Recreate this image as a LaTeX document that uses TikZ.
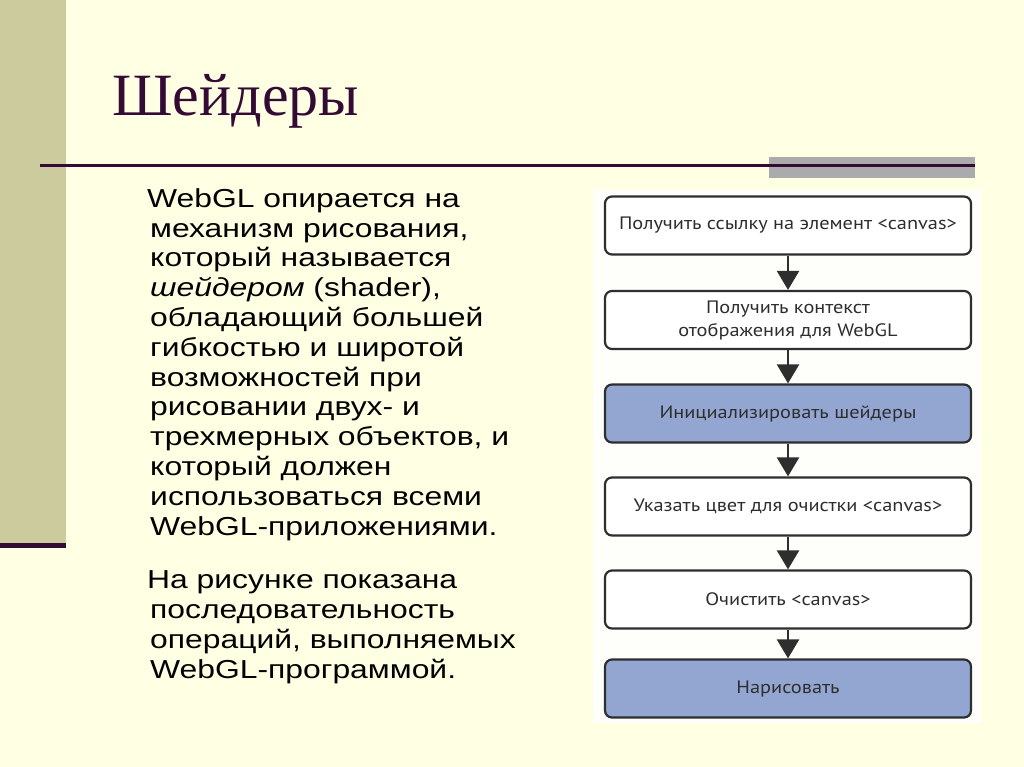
\documentclass[tikz,border=0pt]{standalone}
\usepackage{fontspec}
\setmainfont{Liberation Serif}
\newfontfamily\bodyfont[FakeStretch=1.225]{Liberation Sans}
\newfontfamily\boxfont[FakeStretch=1.13]{PT Sans}
\usetikzlibrary{arrows.meta}
\definecolor{bgcream}{HTML}{FFFFE3}
\definecolor{barolive}{HTML}{CBCB9E}
\definecolor{darkplum}{HTML}{340B34}
\definecolor{graybar}{HTML}{ABABAB}
\definecolor{boxblue}{HTML}{93A6D2}
\definecolor{boxtext}{HTML}{2E2E2E}
\definecolor{panel}{HTML}{FEFEFA}
\tikzset{
  flowbox/.style={draw=boxtext, line width=2.2pt, rounded corners=7pt, fill=white,
    minimum width=366pt, minimum height=58pt, inner sep=0pt, align=center,
    font=\boxfont\fontsize{18}{23}\selectfont, text=boxtext},
  bluebox/.style={flowbox, fill=boxblue},
  flowarrow/.style={draw=boxtext, line width=2.3pt, -{Triangle[width=22pt,length=19pt]}},
  bodytext/.style={anchor=base west, align=left, inner sep=0pt,
    font=\bodyfont\fontsize{26}{29.8}\selectfont}
}
\begin{document}
\begin{tikzpicture}[x=1pt,y=-1pt]
\useasboundingbox (0,0) rectangle (1024,767);
\fill[bgcream] (0,0) rectangle (1024,767);
% left bar
\fill[barolive] (0,0) rectangle (66,545);
\fill[darkplum] (0,543) rectangle (66,548);
% gray rectangle and rule
\fill[graybar] (769,157) rectangle (975,178);
\draw[darkplum, line width=2.6pt] (40,165.5) -- (975,165.5);
% title
\node[anchor=base west, inner sep=0pt, text=darkplum, font=\fontsize{60}{66}\selectfont] (title) at (112,116) {Шейдеры};
% body text (base anchor = baseline of the last line)
\node[bodytext] (p1) at (147,535) {\hspace*{0pt}WebGL опирается на\\
\hspace*{3pt}механизм рисования,\\
\hspace*{3pt}который называется\\
\hspace*{3pt}\textit{шейдером} (shader),\\
\hspace*{3pt}обладающий большей\\
\hspace*{3pt}гибкостью и широтой\\
\hspace*{3pt}возможностей при\\
\hspace*{3pt}рисовании двух- и\\
\hspace*{3pt}трехмерных объектов, и\\
\hspace*{3pt}который должен\\
\hspace*{3pt}использоваться всеми\\
\hspace*{3pt}WebGL-приложениями.};
\node[bodytext] (p2) at (147,678) {На рисунке показана\\
\hspace*{3pt}последовательность\\
\hspace*{3pt}операций, выполняемых\\
\hspace*{3pt}WebGL-программой.};
% flowchart panel
\fill[panel] (593,190) rectangle (982,723);
\node[flowbox] (b1) at (788,225.5) {Получить ссылку на элемент <canvas>};
\node[flowbox] (b2) at (788,320) {Получить контекст\\отображения для WebGL};
\node[bluebox] (b3) at (788,413.5) {Инициализировать шейдеры};
\node[flowbox] (b4) at (788,506.5) {Указать цвет для очистки <canvas>};
\node[flowbox] (b5) at (788,599.5) {Очистить <canvas>};
\node[bluebox] (b6) at (788,688.5) {Нарисовать};
\draw[flowarrow] (b1) -- (b2);
\draw[flowarrow] (b2) -- (b3);
\draw[flowarrow] (b3) -- (b4);
\draw[flowarrow] (b4) -- (b5);
\draw[flowarrow] (b5) -- (b6);
\end{tikzpicture}
\end{document}
